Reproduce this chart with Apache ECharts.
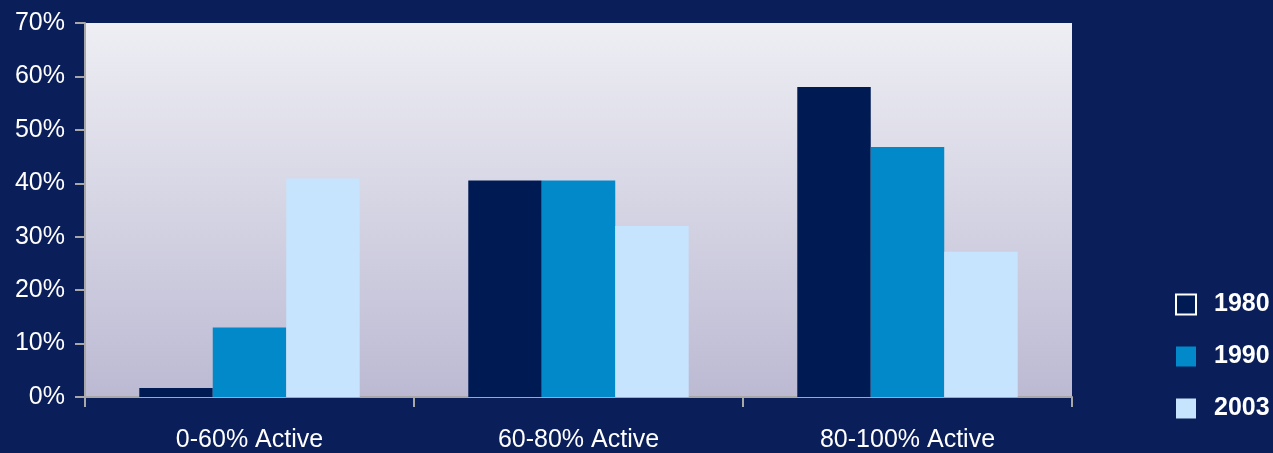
<!DOCTYPE html>
<html>
<head>
<meta charset="utf-8">
<script src="https://cdn.jsdelivr.net/npm/echarts@6/dist/echarts.min.js"></script>
<style>
  html, body { margin: 0; padding: 0; background: #0A1E5A; }
  #chart { width: 1273px; height: 453px; }
</style>
</head>
<body>
<div id="chart"></div>
<script>
// Share of units by activity band, per survey year
const categories = ['0-60% Active', '60-80% Active', '80-100% Active'];
const years = ['1980', '1990', '2003'];
const values1980 = [1.7, 40.5, 58.0];
const values1990 = [13.0, 40.5, 46.8];
const values2003 = [40.9, 32.0, 27.2];
const yTicks = [0, 10, 20, 30, 40, 50, 60, 70];

const seriesColors = ['#001B54', '#0289C9', '#C6E4FD'];
const seriesValues = [values1980, values1990, values2003];

const chart = echarts.init(document.getElementById('chart'), null, { renderer: 'canvas' });

const font = '"Liberation Sans", Arial, sans-serif';

chart.setOption({
  backgroundColor: '#0A1E5A',
  animation: false,
  grid: {
    left: 85, right: 201, top: 23, bottom: 55,
    show: true,
    borderWidth: 0,
    backgroundColor: {
      type: 'linear', x: 0, y: 0, x2: 0, y2: 1,
      colorStops: [
        { offset: 0, color: '#EEEEF4' },
        { offset: 1, color: '#BCBAD3' }
      ]
    }
  },
  legend: {
    orient: 'vertical',
    left: 1175,
    top: 292,
    padding: 0,
    itemWidth: 20,
    itemHeight: 20,
    itemGap: 27,
    icon: 'rect',
    textStyle: { color: '#FFFFFF', fontFamily: font, fontSize: 25, fontWeight: 'bold', padding: [0, 0, 0, 13] },
    data: years.map((y, i) => ({
      name: y,
      itemStyle: i === 0 ? { color: '#001B54', borderColor: '#FFFFFF', borderWidth: 2 } : { color: seriesColors[i] }
    }))
  },
  xAxis: {
    type: 'category',
    data: categories,
    axisLine: { show: true, lineStyle: { color: '#A8A8A8', width: 2 } },
    axisTick: { show: true, length: 10, lineStyle: { color: '#A8A8A8', width: 2 } },
    axisLabel: { color: '#FFFFFF', fontFamily: font, fontSize: 25, margin: 31 },
    splitLine: { show: false }
  },
  yAxis: {
    type: 'value',
    min: yTicks[0],
    max: yTicks[yTicks.length - 1],
    interval: 10,
    axisLine: { show: true, lineStyle: { color: '#A8A8A8', width: 2 } },
    axisTick: { show: true, length: 10, lineStyle: { color: '#A8A8A8', width: 2 } },
    axisLabel: { color: '#FFFFFF', fontFamily: font, fontSize: 25, margin: 20, formatter: '{value}%' },
    splitLine: { show: false }
  },
  series: years.map((y, i) => ({
    name: y,
    type: 'bar',
    data: seriesValues[i],
    barGap: '0%',
    barCategoryGap: '33%',
    itemStyle: { color: seriesColors[i] }
  }))
});
</script>
</body>
</html>
